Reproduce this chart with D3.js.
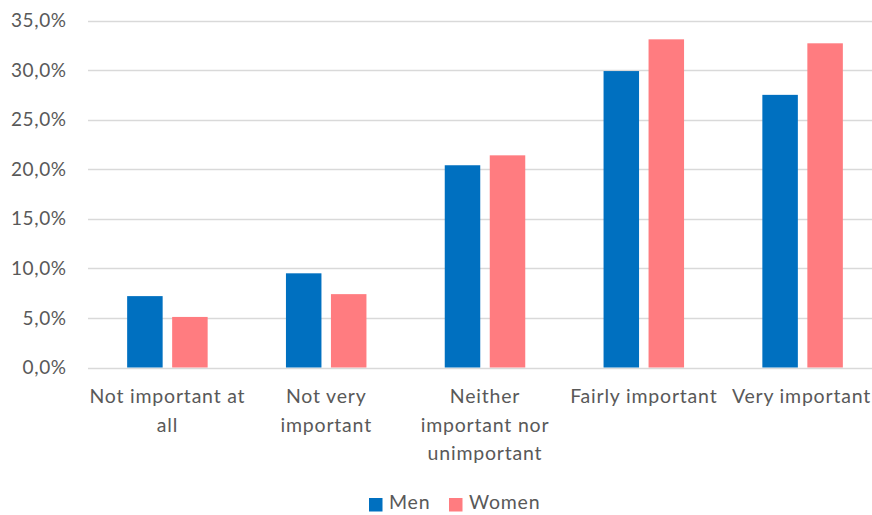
<!DOCTYPE html>
<html><head><meta charset="utf-8">
<script src="https://cdn.jsdelivr.net/npm/d3@7"></script>
<style>body{margin:0;background:#fff}svg{display:block}</style>
</head><body>
<script>
const categories = ["Not important at all","Not very important","Neither important nor unimportant","Fairly important","Very important"];
const categoryLines = [["Not important at","all"],["Not very","important"],["Neither","important nor","unimportant"],["Fairly important"],["Very important"]];
const seriesNames = ["Men","Women"];
const men = [7.2, 9.5, 20.4, 29.9, 27.5];
const women = [5.1, 7.4, 21.4, 33.1, 32.7];
const yTicks = [0,5,10,15,20,25,30,35];
const colors = ["#0070C0","#FF7C80"];

const W=872,H=515;
const svg=d3.select("body").append("svg").attr("width",W).attr("height",H);
const font="Lato, 'Open Sans', sans-serif";
const x=d3.scaleBand().domain(categories).range([88,882]);
const y=d3.scaleLinear().domain([0,35]).range([367.5,20.5]);
const barW=35.5, gap=9.5;
const xs=d3.scaleOrdinal().domain(seriesNames).range([-(gap/2+barW), gap/2]);

// gridlines
svg.append("g").selectAll("line").data(yTicks).join("line")
 .attr("x1",88).attr("x2",W).attr("y1",d=>Math.round(y(d))+0.5).attr("y2",d=>Math.round(y(d))+0.5)
 .attr("stroke","#D9D9D9").attr("stroke-width",1.5);

// y labels
const fmt=d=>d.toFixed(1).replace(".",",")+"%";
svg.append("g").selectAll("text").data(yTicks).join("text")
 .attr("x",66.6).attr("y",d=>y(d)).attr("dy","0.35em").attr("text-anchor","end")
 .attr("font-family",font).attr("font-size",19).attr("letter-spacing",0.6).attr("fill","#595959").text(fmt);

const data=seriesNames.map((s,i)=>({name:s,vals:i===0?men:women,color:colors[i]}));
svg.append("g").selectAll("g").data(data).join("g").attr("fill",d=>d.color)
 .selectAll("rect").data(d=>d.vals.map((v,j)=>({s:d.name,c:categories[j],v})))
 .join("rect")
 .attr("x",d=>x(d.c)+x.bandwidth()/2+xs(d.s)).attr("width",barW)
 .attr("y",d=>y(d.v)).attr("height",d=>y(0)-y(d.v));

// category labels
const cl=svg.append("g").selectAll("text").data(categories).join("text")
 .attr("text-anchor","middle").attr("font-family",font).attr("font-size",19.5).attr("letter-spacing",0.8).attr("fill","#595959")
 .attr("transform",d=>`translate(${x(d)+x.bandwidth()/2},403)`);
cl.selectAll("tspan").data((d,i)=>categoryLines[i]).join("tspan")
 .attr("x",0).attr("y",(d,i)=>i*28.5).text(d=>d);
// keep the last label inside the picture
cl.each(function(){
  const b=this.getBBox();
  const m=this.getCTM();
  const right=m.e+b.x+b.width;
  if(right>W-1){
    const t=d3.select(this).attr("transform");
    const cx=m.e-(right-(W-1));
    d3.select(this).attr("transform",`translate(${cx},403)`);
  }
});

// legend
const leg=svg.append("g").attr("font-family",font).attr("font-size",19.5).attr("letter-spacing",0.8).attr("fill","#595959");
const legX=[369,449];
data.forEach((d,i)=>{
  leg.append("rect").attr("x",legX[i]).attr("y",498).attr("width",13.5).attr("height",13.5).attr("fill",d.color);
  leg.append("text").attr("x",legX[i]+20).attr("y",509).text(d.name);
});
</script>
</body></html>
